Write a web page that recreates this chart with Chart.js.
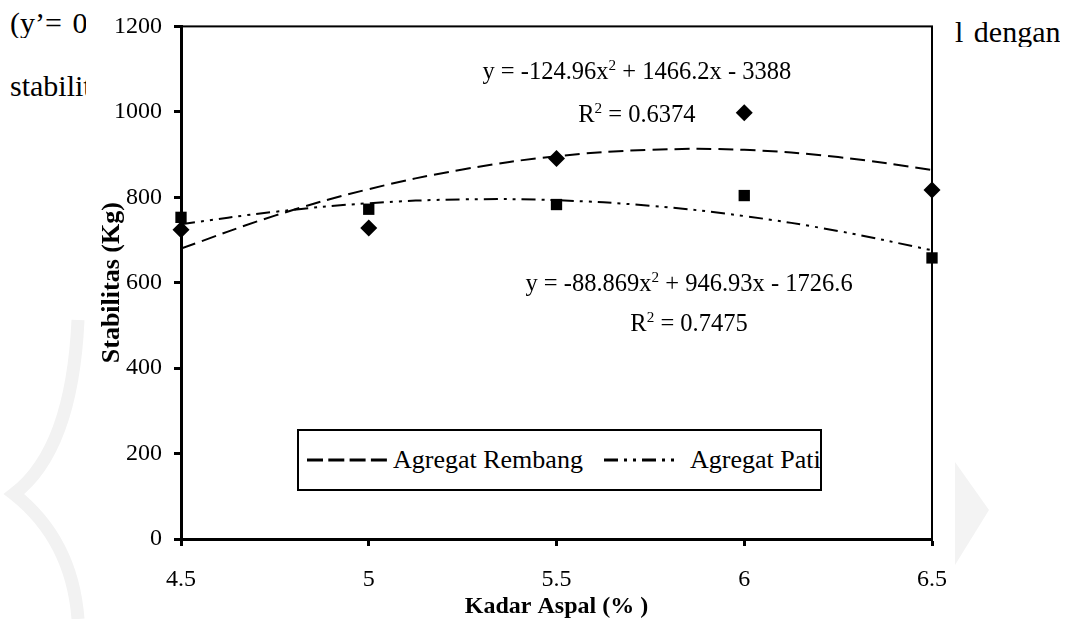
<!DOCTYPE html>
<html>
<head>
<meta charset="utf-8">
<script src="https://cdn.jsdelivr.net/npm/chart.js@4.4.1/dist/chart.umd.min.js"></script>
<style>
  html, body { margin: 0; padding: 0; background: #fff; }
  body { width: 1070px; height: 619px; position: relative; overflow: hidden;
         font-family: 'Liberation Serif', 'Times New Roman', serif; color: #000; }
  .body-text { position: absolute; font-size: 30px; line-height: 30px; white-space: nowrap; overflow: hidden; }
  #wrap { position: absolute; left: 0; top: 0; width: 1070px; height: 619px; }
  #legend { position: absolute; left: 297px; top: 429px; width: 525px; height: 62px;
            box-sizing: border-box; border: 2px solid #000; background: #fff; overflow: hidden;
            font-size: 26px; }
  #legend .item { position: absolute; top: 0; height: 58px; display: flex; align-items: center; white-space: nowrap; }
  #legend svg { display: block; }
</style>
</head>
<body>
<div class="body-text" style="left:10px; top:8px; width:76px; word-spacing:3px;">(y’= 0,</div>
<div class="body-text" style="left:10px; top:71px; width:76px;">stabilitas</div>
<div class="body-text" style="left:955px; top:17px; word-spacing:3px;">l dengan</div>
<div id="wrap"><canvas id="stabChart" width="1070" height="619"></canvas></div>
<div id="legend">
  <div class="item" style="left:8px;">
    <svg width="80" height="10"><line x1="0" y1="5" x2="80" y2="5" stroke="#000" stroke-width="3" stroke-dasharray="16 5.3"/></svg>
    <span style="margin-left:6px;">Agregat Rembang</span>
  </div>
  <div class="item" style="left:305px;">
    <svg width="71" height="10"><line x1="0" y1="5" x2="71" y2="5" stroke="#000" stroke-width="3" stroke-dasharray="14 6 3 6 3 6"/></svg>
    <span style="margin-left:15px;">Agregat Pati</span>
  </div>
</div>
<script>
// kadar aspal (%) and measured stabilitas (kg)
const kadarAspal = [4.5, 5, 5.5, 6, 6.5];
const stabRembang = [724, 728, 891, 998, 817];
const stabPati = [753, 772, 783, 804, 658];

// trendline curves
const trendX = [4.5, 4.75, 5, 5.25, 5.5, 5.75, 6, 6.25, 6.5];
const trendRembang = [680, 757, 819, 865, 896, 911, 911, 894, 864];
const trendPati = [737, 766, 786, 795, 793, 780, 756, 721, 676];

const xTicks = [4.5, 5, 5.5, 6, 6.5];
const xTickLabels = ['4.5', '5', '5.5', '6', '6.5'];
const yTicks = [0, 200, 400, 600, 800, 1000, 1200];
const yTickLabels = ['0', '200', '400', '600', '800', '1000', '1200'];

const eqRembang = 'y = -124.96x^2 + 1466.2x - 3388';
const r2Rembang = 'R^2 = 0.6374';
const eqPati = 'y = -88.869x^2 + 946.93x - 1726.6';
const r2Pati = 'R^2 = 0.7475';

// label anchors in data units (x centre, y baseline)
const eqLabels = [
    {text: eqRembang, x: 5.714, y: 1076},
    {text: r2Rembang, x: 5.714, y: 976},
    {text: eqPati, x: 5.853, y: 580},
    {text: r2Pati, x: 5.853, y: 487}
];

const SERIF = "'Liberation Serif', 'Times New Roman', serif";
const pts = (xs, ys) => xs.map((x, i) => ({x: x, y: ys[i]}));

function drawRich(ctx, str, cx, by, size) {
    const parts = str.split(/\^(\d)/);
    let total = 0;
    const widths = parts.map((p, i) => {
        ctx.font = `${i % 2 ? size * 0.62 : size}px ${SERIF}`;
        const w = ctx.measureText(p).width;
        total += w;
        return w;
    });
    let x = cx - total / 2;
    parts.forEach((p, i) => {
        const sup = i % 2 === 1;
        ctx.font = `${sup ? size * 0.62 : size}px ${SERIF}`;
        ctx.fillText(p, x, sup ? by - size * 0.38 : by);
        x += widths[i];
    });
}

const decor = {
    id: 'decor',
    beforeDraw(chart) {
        const ctx = chart.ctx;
        const a = chart.chartArea;
        ctx.save();
        // faint watermark
        ctx.strokeStyle = '#f2f2f2';
        ctx.lineWidth = 13;
        ctx.beginPath();
        ctx.moveTo(78, 320);
        ctx.quadraticCurveTo(72, 450, 14, 494);
        ctx.quadraticCurveTo(72, 540, 78, 619);
        ctx.stroke();
        ctx.fillStyle = '#f3f3f3';
        ctx.beginPath();
        ctx.moveTo(955, 462);
        ctx.lineTo(989, 510);
        ctx.lineTo(955, 565);
        ctx.closePath();
        ctx.fill();
        // white plot box with thin frame
        ctx.fillStyle = '#fff';
        ctx.fillRect(a.left, a.top, a.width, a.height);
        ctx.strokeStyle = '#000';
        ctx.lineWidth = 2;
        ctx.strokeRect(a.left, a.top, a.width, a.height);
        ctx.restore();
    },
    afterDatasetsDraw(chart) {
        const ctx = chart.ctx;
        const xs = chart.scales.x, ys = chart.scales.y;
        ctx.save();
        ctx.fillStyle = '#000';
        ctx.textBaseline = 'alphabetic';
        eqLabels.forEach(l => drawRich(ctx, l.text, xs.getPixelForValue(l.x), ys.getPixelForValue(l.y), 24.5));
        ctx.restore();
    }
};

Chart.defaults.font.family = SERIF;
Chart.defaults.color = '#000';

const ctx = document.getElementById('stabChart').getContext('2d');
const chart = new Chart(ctx, {
    type: 'scatter',
    data: {
        datasets: [
            {
                label: 'Agregat Rembang',
                data: pts(trendX, trendRembang),
                showLine: true,
                borderColor: '#000',
                borderWidth: 2,
                borderDash: [15, 7],
                tension: 0.4,
                pointRadius: 0,
                fill: false
            },
            {
                label: 'Agregat Pati',
                data: pts(trendX, trendPati),
                showLine: true,
                borderColor: '#000',
                borderWidth: 2,
                borderDash: [14, 6, 3, 6, 3, 6],
                tension: 0.4,
                pointRadius: 0,
                fill: false
            },
            {
                label: 'Rembang data',
                data: pts(kadarAspal, stabRembang),
                pointStyle: 'rectRot',
                pointRadius: 8.5,
                pointBackgroundColor: '#000',
                pointBorderWidth: 0,
                clip: false
            },
            {
                label: 'Pati data',
                data: pts(kadarAspal, stabPati),
                pointStyle: 'rect',
                pointRadius: 8,
                pointBackgroundColor: '#000',
                pointBorderWidth: 0,
                clip: false
            }
        ]
    },
    options: {
        responsive: false,
        animation: false,
        devicePixelRatio: 1,
        layout: {padding: {left: 0, right: 138, top: 24, bottom: 0}},
        plugins: {
            legend: {display: false},
            tooltip: {enabled: false}
        },
        scales: {
            x: {
                type: 'linear',
                min: 4.5,
                max: 6.5,
                afterBuildTicks: s => { s.ticks = xTicks.map(v => ({value: v})); },
                afterFit: s => { s.height = 80; },
                grid: {display: true, drawOnChartArea: false, drawTicks: true,
                       tickLength: 7, tickWidth: 3, tickColor: '#000', color: '#000'},
                border: {display: true, width: 3, color: '#000'},
                ticks: {font: {family: SERIF, size: 24}, padding: 19, maxRotation: 0, color: '#000',
                        callback: (v, i) => xTickLabels[i]},
                title: {display: true, text: 'Kadar Aspal (% )',
                        font: {family: SERIF, size: 24, weight: 'bold', lineHeight: 1}, padding: {top: 0, bottom: 0}}
            },
            y: {
                min: 0,
                max: 1200,
                afterBuildTicks: s => { s.ticks = yTicks.map(v => ({value: v})); },
                afterFit: s => { s.width = 181; },
                grid: {display: true, drawOnChartArea: false, drawTicks: true,
                       tickLength: 7, tickWidth: 3, tickColor: '#000', color: '#000'},
                border: {display: true, width: 3, color: '#000'},
                ticks: {font: {family: SERIF, size: 24}, padding: 12, color: '#000',
                        callback: (v, i) => yTickLabels[i]},
                title: {display: true, text: 'Stabilitas (Kg)',
                        font: {family: SERIF, size: 26, weight: 'bold', lineHeight: 1}, padding: {top: 99, bottom: 0}}
            }
        }
    },
    plugins: [decor]
});
</script>
</body>
</html>
